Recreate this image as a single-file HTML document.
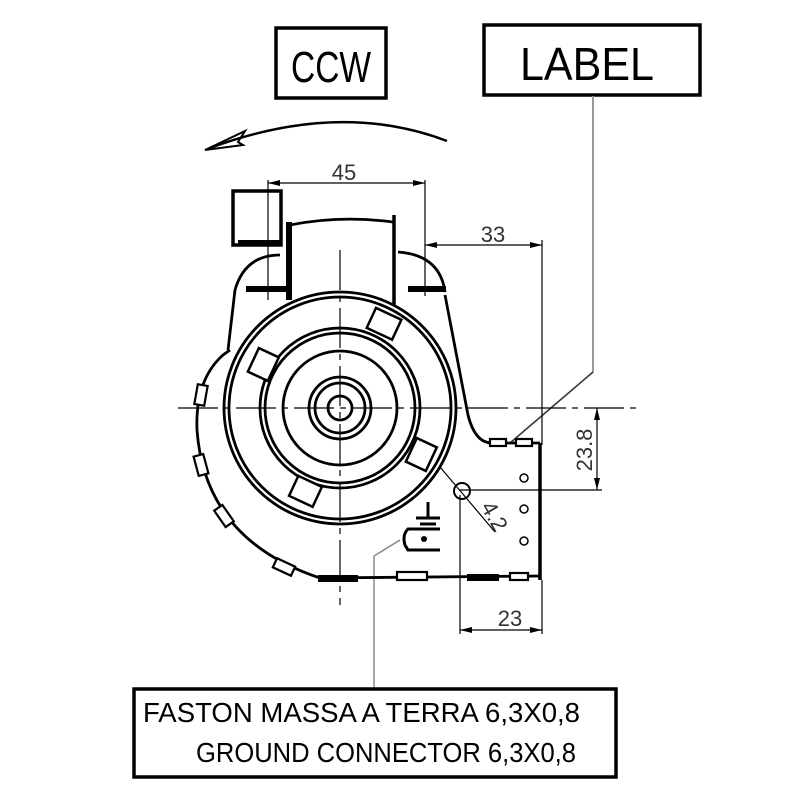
<!DOCTYPE html>
<html><head><meta charset="utf-8"><style>body{margin:0;background:#fff}svg{display:block}</style></head>
<body>
<svg width="800" height="800" viewBox="0 0 800 800" xmlns="http://www.w3.org/2000/svg" font-family="'Liberation Sans Narrow','Liberation Sans',sans-serif">
<rect width="800" height="800" fill="#fff"/>
<!-- top boxes -->
<rect x="276" y="28" width="110" height="70" fill="none" stroke="#000" stroke-width="3.5"/>
<text x="331" y="82" font-size="44" text-anchor="middle" textLength="80" lengthAdjust="spacingAndGlyphs">CCW</text>
<rect x="484" y="25" width="216" height="70" fill="none" stroke="#000" stroke-width="3.5"/>
<text x="587" y="80" font-size="46" text-anchor="middle" textLength="134" lengthAdjust="spacingAndGlyphs">LABEL</text>
<!-- CCW arrow -->
<path d="M447 141 Q340 100 210 148" fill="none" stroke="#000" stroke-width="2.5"/>
<path d="M205 150 L245 131 L238 142 L243 145 Z" fill="none" stroke="#000" stroke-width="2"/>
<!-- leaders -->
<polyline points="593,96 593,372 510,443" fill="none" stroke="#999" stroke-width="2"/>
<polyline points="593,372 510,443" fill="none" stroke="#222" stroke-width="1"/>
<polyline points="374,688 374,556 400,540" fill="none" stroke="#888" stroke-width="1.5"/>
<!-- dimensions -->
<g stroke="#000" stroke-width="1.2" fill="none">
<line x1="268" y1="180" x2="268" y2="300"/><line x1="425" y1="180" x2="425" y2="296"/>
<line x1="268" y1="183" x2="425" y2="183"/>
<line x1="425" y1="245" x2="542" y2="245"/><line x1="542" y1="240" x2="542" y2="445"/>
<line x1="460" y1="490" x2="602" y2="490"/><line x1="597" y1="408" x2="597" y2="490"/>
<line x1="460" y1="495" x2="460" y2="634"/><line x1="542" y1="580" x2="542" y2="634"/>
<line x1="460" y1="630" x2="542" y2="630"/>
<line x1="440" y1="467" x2="495" y2="532"/>
</g>
<g fill="#000">
<path d="M268 183 l12 -3 v6z"/><path d="M425 183 l-12 -3 v6z"/>
<path d="M425 245 l12 -3 v6z"/><path d="M542 245 l-12 -3 v6z"/>
<path d="M597 408 l-3 12 h6z"/><path d="M597 490 l-3 -12 h6z"/>
<path d="M460 630 l12 -3 v6z"/><path d="M542 630 l-12 -3 v6z"/>
</g>
<g font-size="22" fill="#333">
<text x="344" y="180" text-anchor="middle">45</text>
<text x="493" y="242" text-anchor="middle">33</text>
<text x="510" y="626" text-anchor="middle">23</text>
<text transform="translate(592,450) rotate(-90)" text-anchor="middle">23.8</text>
<text transform="translate(488,520) rotate(60)" text-anchor="middle">4.2</text>
</g>
<!-- center lines -->
<g stroke="#000" stroke-width="1.2" stroke-dasharray="40,6,6,6">
<line x1="178" y1="408" x2="640" y2="408"/>
<line x1="340" y1="250" x2="340" y2="605"/>
</g>
<!-- motor circles -->
<g fill="none" stroke="#000" stroke-width="2.8">
<circle cx="340" cy="408" r="116"/><circle cx="340" cy="408" r="111"/>
<circle cx="340" cy="408" r="80"/><circle cx="340" cy="408" r="75"/>
<circle cx="340" cy="408" r="57"/>
<circle cx="340" cy="408" r="31"/><circle cx="340" cy="408" r="25"/><circle cx="340" cy="408" r="12"/>
</g>
<!-- tabs -->
<g fill="#fff" stroke="#000" stroke-width="2.5">
<rect x="-10" y="-12" width="28" height="22" transform="translate(380,323) rotate(25)"/>
<rect x="-12" y="-10" width="26" height="22" transform="translate(262,365) rotate(-65)"/>
<rect x="-12" y="-10" width="26" height="22" transform="translate(420,455) rotate(-65)"/>
<rect x="-12" y="-10" width="26" height="22" transform="translate(305,490) rotate(25)"/>
</g>
<!-- housing -->
<g fill="none" stroke="#000" stroke-width="2.8">
<rect x="233" y="191" width="48" height="54" stroke-width="3.5"/>
<path d="M290 225 Q340 215 393 222"/>
<line x1="289" y1="222" x2="289" y2="300" stroke-width="6"/>
<line x1="394" y1="215" x2="394" y2="305" stroke-width="3.5"/>
<path d="M280 255 Q245 255 235 290 L228 350"/>
<path d="M398 252 Q440 255 445 292"/>
<path d="M445 295 L468 415 Q475 443 492 443 L540 443"/>
<path d="M230 350 L223 355 Q195 380 197 430 Q205 540 320 578 L540 576"/>
<line x1="540" y1="443" x2="540" y2="580" stroke-width="3.5"/>
</g>
<g fill="#000">
<rect x="246" y="286" width="44" height="6"/><rect x="408" y="286" width="38" height="6"/>
<rect x="238" y="240" width="44" height="6"/>
<rect x="318" y="575" width="40" height="7"/><rect x="467" y="574" width="32" height="7"/>
</g>
<!-- segments on scroll -->
<g fill="#fff" stroke="#000" stroke-width="2.2">
<rect x="-5" y="-10" width="10" height="20" transform="translate(201,395) rotate(10)"/>
<rect x="-5" y="-10" width="10" height="20" transform="translate(201,465) rotate(-15)"/>
<rect x="-5" y="-10" width="10" height="20" transform="translate(224,516) rotate(-35)"/>
<rect x="-5" y="-10" width="10" height="20" transform="translate(284,567) rotate(-65)"/>
<rect x="397" y="572" width="30" height="8"/>
<rect x="510" y="573" width="18" height="7"/>
<rect x="490" y="439" width="16" height="7"/><rect x="516" y="439" width="16" height="7"/>
</g>
<!-- hole & screws -->
<circle cx="462" cy="491" r="8" fill="none" stroke="#000" stroke-width="2"/>
<g fill="none" stroke="#000" stroke-width="1.5"><circle cx="524" cy="478" r="4"/><circle cx="524" cy="509" r="4"/><circle cx="524" cy="541" r="4"/></g>
<!-- ground connector -->
<g stroke="#000" stroke-width="3" fill="none">
<line x1="428" y1="502" x2="428" y2="518"/><line x1="416" y1="518" x2="440" y2="518"/><line x1="420" y1="524" x2="436" y2="524"/>
<path d="M440 529 L408 529 Q402 535 405 545 L408 550 L440 550"/>
</g>
<circle cx="424" cy="539" r="3" fill="#000"/>
<!-- bottom box -->
<rect x="134" y="689" width="482" height="88" fill="none" stroke="#000" stroke-width="3.5"/>
<text x="143" y="722" font-size="28" textLength="437" lengthAdjust="spacingAndGlyphs">FASTON MASSA A TERRA 6,3X0,8</text>
<text x="196" y="762" font-size="28" textLength="380" lengthAdjust="spacingAndGlyphs">GROUND  CONNECTOR 6,3X0,8</text>
</svg>
</body></html>
